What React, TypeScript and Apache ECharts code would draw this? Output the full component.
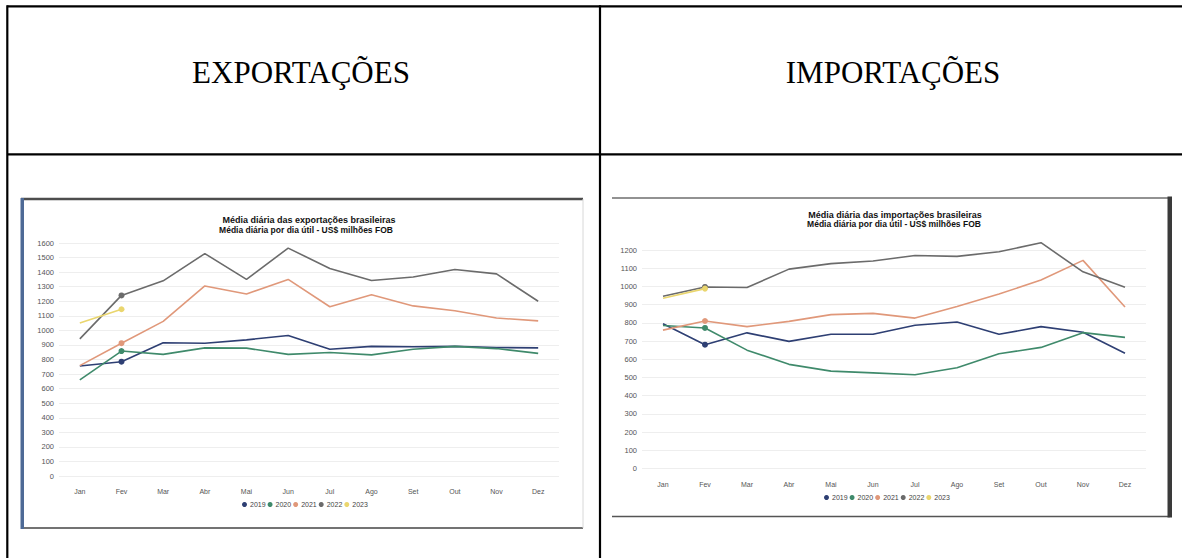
import React, { useEffect, useRef } from "react";
import * as echarts from "echarts";

const months = ["Jan", "Fev", "Mar", "Abr", "Mai", "Jun", "Jul", "Ago", "Set", "Out", "Nov", "Dez"];
const years = ["2019", "2020", "2021", "2022", "2023"];
const yearColors = ["#2e3f73", "#3f8a6b", "#e0987a", "#6b6b6b", "#ead66e"];

const exp2019 = [755, 785, 915, 912, 935, 965, 870, 890, 888, 890, 882, 880];
const exp2020 = [660, 858, 835, 880, 878, 835, 848, 832, 870, 890, 875, 842];
const exp2021 = [758, 912, 1062, 1305, 1250, 1350, 1162, 1245, 1168, 1135, 1085, 1065];
const exp2022 = [942, 1240, 1340, 1527, 1350, 1565, 1425, 1343, 1367, 1418, 1388, 1200];
const exp2023 = [1050, 1145];

const imp2019 = [795, 680, 745, 698, 737, 737, 787, 805, 737, 779, 748, 633];
const imp2020 = [785, 772, 650, 572, 535, 525, 515, 553, 630, 665, 746, 720];
const imp2021 = [760, 810, 779, 808, 845, 852, 826, 890, 958, 1035, 1143, 887];
const imp2022 = [946, 997, 994, 1095, 1125, 1140, 1170, 1165, 1190, 1240, 1080, 995];
const imp2023 = [935, 988];

const exportSeries = [exp2019, exp2020, exp2021, exp2022, exp2023];
const importSeries = [imp2019, imp2020, imp2021, imp2022, imp2023];

const headerLeft = "EXPORTAÇÕES";
const headerRight = "IMPORTAÇÕES";
const expTitle = "Média diária das exportações brasileiras";
const impTitle = "Média diária das importações brasileiras";
const subTitle = "Média diária por dia útil - US$ milhões FOB";

const sans = "'Liberation Sans', Arial, sans-serif";

function makeSeries(data: number[][], gridIndex: number) {
  return data.map((vals, i) => ({
    type: "line",
    name: years[i],
    xAxisIndex: gridIndex,
    yAxisIndex: gridIndex,
    data: vals,
    color: yearColors[i],
    clip: false,
    symbol: "circle",
    showSymbol: true,
    symbolSize: (_v: any, p: any) => (p.dataIndex === 1 ? 6 : 0),
    lineStyle: { width: 1.6, color: yearColors[i] },
    itemStyle: { color: yearColors[i] },
    z: 3,
  }));
}

function makeX(gridIndex: number) {
  return {
    type: "category",
    gridIndex,
    data: months,
    boundaryGap: true,
    axisLine: { show: false },
    axisTick: { show: false },
    axisLabel: { color: "#555", fontSize: 7, fontFamily: sans, margin: 12 },
  };
}

function makeY(gridIndex: number, max: number) {
  return {
    type: "value",
    gridIndex,
    min: 0,
    max,
    interval: 100,
    axisLine: { show: false },
    axisTick: { show: false },
    axisLabel: {
      color: "#555",
      fontSize: 7.5,
      fontFamily: sans,
      margin: 5,
      formatter: (v: number) => String(v),
    },
    splitLine: { lineStyle: { color: "#eeeeee", width: 1 } },
  };
}

export default function App() {
  const ref = useRef<HTMLDivElement>(null);
  useEffect(() => {
    if (!ref.current) return;
    const chart = echarts.init(ref.current, undefined, { renderer: "svg" });
    const line = (x1: number, y1: number, x2: number, y2: number, stroke: string, w: number) => ({
      type: "line",
      shape: { x1, y1, x2, y2 },
      style: { stroke, lineWidth: w },
      silent: true,
    });
    const titleText = (x: number, y: number, text: string, size: number) => ({
      type: "text",
      x,
      y,
      style: {
        text,
        fontFamily: sans,
        fontWeight: "bold",
        fontSize: size,
        fill: "#111",
        textAlign: "center",
        textVerticalAlign: "middle",
      },
    });
    const legendBase = {
      data: years,
      icon: "circle",
      itemWidth: 5,
      itemHeight: 5,
      itemGap: 2,
      textStyle: { fontSize: 7, color: "#444", fontFamily: sans, padding: [0, 0, 0, -2] },
      padding: 0,
    };
    chart.setOption({
      animation: false,
      backgroundColor: "#ffffff",
      grid: [
        { left: 59, top: 243, width: 500, height: 233 },
        { left: 642, top: 250, width: 504, height: 218.5 },
      ],
      xAxis: [makeX(0), makeX(1)],
      yAxis: [makeY(0, 1600), makeY(1, 1200)],
      legend: [
        { ...legendBase, left: 242, top: 501 },
        { ...legendBase, left: 824, top: 494 },
      ],
      series: [...makeSeries(exportSeries, 0), ...makeSeries(importSeries, 1)],
      graphic: [
        // table lines
        line(7.3, 6.3, 1182, 6.3, "#000", 2.2),
        line(7.3, 5.2, 7.3, 558, "#000", 2.2),
        line(7.3, 154.3, 1182, 154.3, "#000", 2.2),
        line(600, 5.2, 600, 558, "#000", 2.2),
        // header texts
        {
          type: "text",
          x: 301,
          y: 72,
          style: {
            text: headerLeft,
            fontFamily: "'Liberation Serif', 'Times New Roman', serif",
            fontSize: 31,
            fill: "#000",
            textAlign: "center",
            textVerticalAlign: "middle",
          },
        },
        {
          type: "text",
          x: 893,
          y: 72,
          style: {
            text: headerRight,
            fontFamily: "'Liberation Serif', 'Times New Roman', serif",
            fontSize: 31,
            fill: "#000",
            textAlign: "center",
            textVerticalAlign: "middle",
          },
        },
        // exports frame
        line(21, 199, 583, 199, "#4d4d4d", 2.5),
        line(21, 528, 583, 528, "#444", 1.5),
        line(583, 199, 583, 528, "#d8d8d8", 1),
        {
          type: "rect",
          shape: { x: 20.5, y: 198, width: 3.5, height: 331 },
          style: { fill: "#4e6a96" },
          silent: true,
        },
        // imports frame
        line(612, 198, 1170, 198, "#6e6e6e", 1.5),
        line(612, 516.5, 1170, 516.5, "#555", 1.5),
        {
          type: "rect",
          shape: { x: 1167.5, y: 196.5, width: 4.5, height: 321 },
          style: { fill: "#3a3a3a" },
          silent: true,
        },
        // chart titles
        titleText(309, 220, expTitle, 9),
        titleText(306, 230, subTitle, 8.5),
        titleText(895, 214.5, impTitle, 9),
        titleText(894, 224, subTitle, 8.5),
      ],
    });
    return () => chart.dispose();
  }, []);
  return (
    <div
      ref={ref}
      style={{ position: "fixed", left: 0, top: 0, width: 1182, height: 558, background: "#fff" }}
    />
  );
}
